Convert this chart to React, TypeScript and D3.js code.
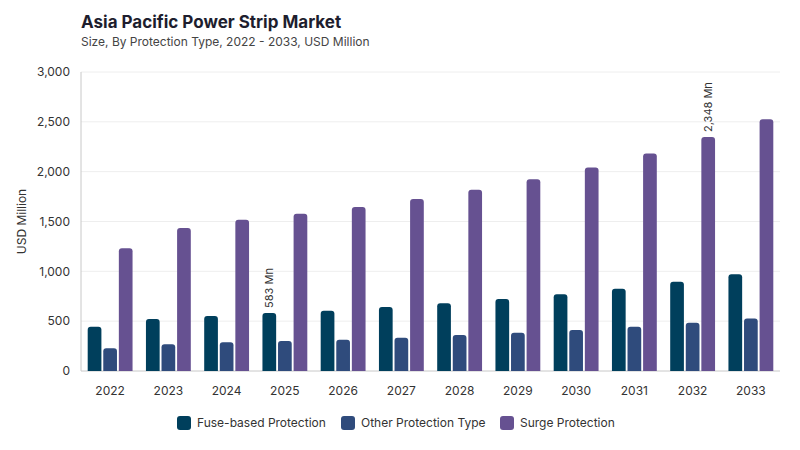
import React from "react";
import * as d3 from "d3";

const years = ["2022", "2023", "2024", "2025", "2026", "2027", "2028", "2029", "2030", "2031", "2032", "2033"];
const fuseBased = [444, 522, 552, 583, 605, 642, 679, 722, 769, 826, 896, 970];
const otherType = [228, 268, 288, 301, 314, 334, 361, 384, 411, 444, 485, 528];
const surge = [1231, 1434, 1518, 1578, 1645, 1725, 1819, 1923, 2043, 2183, 2348, 2525];
const yTicks = [0, 500, 1000, 1500, 2000, 2500, 3000];

const seriesNames = ["Fuse-based Protection", "Other Protection Type", "Surge Protection"];
const seriesValues = [fuseBased, otherType, surge];
const colors = ["#003f5c", "#2f4b7c", "#665191"];

// annotated bars: [series index, year index]
const annotations: [number, number][] = [
  [0, 3],
  [2, 10],
];

const W = 800;
const H = 450;
const margin = { top: 72, right: 20, bottom: 79, left: 81 };
const FONT = "Inter, 'DejaVu Sans', sans-serif";

function topRoundedBar(x: number, y: number, w: number, h: number, r: number) {
  const rr = Math.min(r, h, w / 2);
  return `M${x},${y + h}V${y + rr}Q${x},${y} ${x + rr},${y}H${x + w - rr}Q${x + w},${y} ${x + w},${y + rr}V${y + h}Z`;
}

export default function App() {
  const x0 = d3
    .scaleBand<string>()
    .domain(years)
    .range([margin.left, W - margin.right])
    .paddingInner(0.23)
    .paddingOuter(0.115);
  const x1 = d3
    .scaleBand<number>()
    .domain([0, 1, 2])
    .range([0, x0.bandwidth()])
    .paddingInner(0.12);
  const y = d3.scaleLinear().domain([0, 3000]).range([H - margin.bottom, margin.top]);
  const fmt = d3.format(",");

  const legendX = [177, 341, 500];

  return (
    <svg width={W} height={H} style={{ position: "absolute", left: 0, top: 0, fontFamily: FONT }}>
      <rect width={W} height={H} fill="#ffffff" />
      <text x={81} y={28} fontSize={17} fontWeight={700} fill="#1e1e2e">
        Asia Pacific Power Strip Market
      </text>
      <text x={81} y={46} fontSize={12} fill="#444">
        Size, By Protection Type, 2022 - 2033, USD Million
      </text>

      {/* grid */}
      {yTicks.map((t) => (
        <g key={t}>
          {t > 0 && (
            <line x1={margin.left} x2={W - margin.right} y1={y(t)} y2={y(t)} stroke="#eeeeee" strokeWidth={1} />
          )}
          <text x={70} y={y(t)} dy="0.35em" textAnchor="end" fontSize={12} fill="#333">
            {fmt(t)}
          </text>
        </g>
      ))}
      <text
        transform={`translate(26,${(y(0) + y(3000)) / 2}) rotate(-90)`}
        textAnchor="middle"
        fontSize={12}
        fill="#333"
      >
        USD Million
      </text>

      {/* axes */}
      <line x1={margin.left} x2={margin.left} y1={margin.top} y2={y(0)} stroke="#c8c8c8" />
      <line x1={margin.left} x2={W - margin.right} y1={y(0)} y2={y(0)} stroke="#c8c8c8" />

      {/* bars */}
      {years.map((yr, i) => (
        <g key={yr} transform={`translate(${x0(yr)},0)`}>
          {seriesValues.map((vals, s) => (
            <path
              key={s}
              d={topRoundedBar(x1(s)!, y(vals[i]), x1.bandwidth(), y(0) - y(vals[i]), 3)}
              fill={colors[s]}
            />
          ))}
          <text
            x={x0.bandwidth() / 2}
            y={y(0) + 24}
            textAnchor="middle"
            fontSize={12}
            fill="#333"
          >
            {yr}
          </text>
        </g>
      ))}

      {annotations.map(([s, i]) => {
        const cx = x0(years[i])! + x1(s)! + x1.bandwidth() / 2;
        const cy = y(seriesValues[s][i]) - 5;
        return (
          <text
            key={`${s}-${i}`}
            transform={`translate(${cx},${cy}) rotate(-90)`}
            dy="0.35em"
            fontSize={11}
            fill="#333"
          >
            {fmt(seriesValues[s][i])} Mn
          </text>
        );
      })}

      {/* legend */}
      {seriesNames.map((name, s) => (
        <g key={name} transform={`translate(${legendX[s]},423)`}>
          <rect x={0} y={-7} width={14} height={14} rx={3} fill={colors[s]} />
          <text x={20} y={0} dy="0.35em" fontSize={12} fill="#333">
            {name}
          </text>
        </g>
      ))}
    </svg>
  );
}
